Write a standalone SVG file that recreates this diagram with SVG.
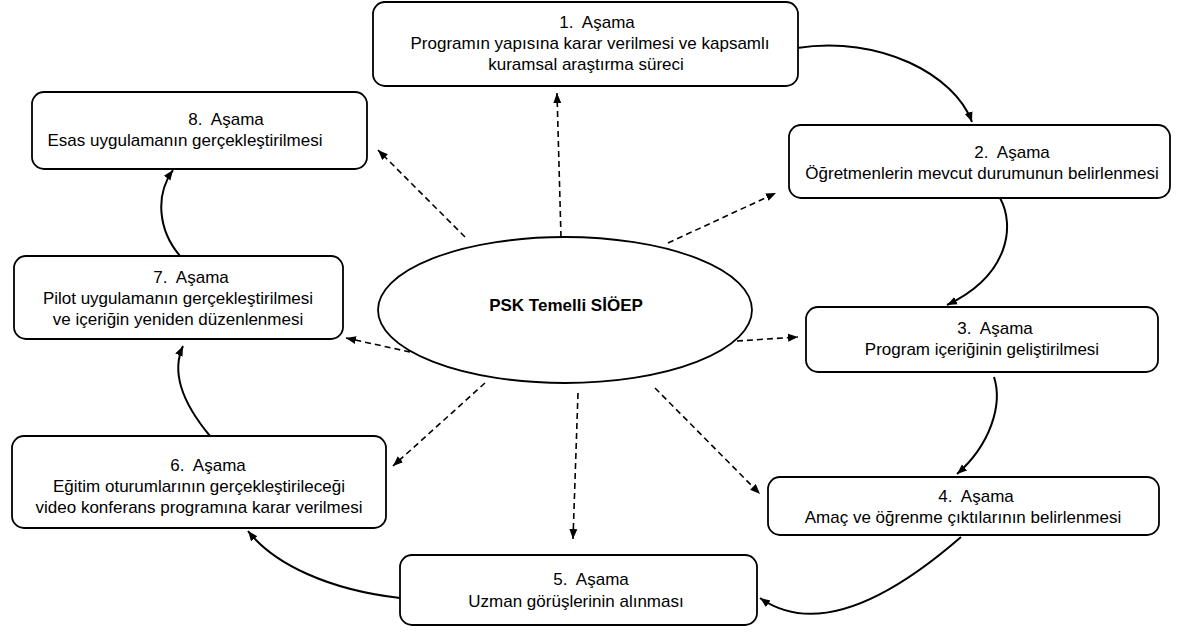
<svg xmlns="http://www.w3.org/2000/svg" width="1182" height="632" viewBox="0 0 1182 632">
<style>
.box{fill:#fff;stroke:#000;stroke-width:1.8}
.t{font-family:"Liberation Sans",Arial,sans-serif;font-size:17px;fill:#000;text-anchor:middle;white-space:pre}
.b{font-weight:bold}
.solid{fill:none;stroke:#000;stroke-width:2;marker-end:url(#ah)}
.dash{fill:none;stroke:#000;stroke-width:1.6;stroke-dasharray:6 4;marker-end:url(#ah)}
</style>
<defs>
<marker id="ah" markerUnits="userSpaceOnUse" markerWidth="12" markerHeight="10" refX="10" refY="4" orient="auto" viewBox="0 0 12 8">
<path d="M0,0 L10,4 L0,8 Z" fill="#000"/>
</marker>
</defs>
<rect width="1182" height="632" fill="#fff"/>
<g id="center">
<ellipse cx="565" cy="310" rx="187" ry="73" class="box"/>
<text x="566" y="311" class="t b">PSK Temelli SİÖEP</text>
</g>
<g id="connectors">
<path class="solid" d="M797,48 C880,35 955,75 972,122"/>
<path class="solid" d="M1000,198 C1015,225 1010,275 947,305"/>
<path class="solid" d="M994,377 C1003,405 990,445 957,474"/>
<path class="solid" d="M961,537 C900,590 820,640 760,598"/>
<path class="solid" d="M400,598 C330,590 275,565 248,531"/>
<path class="solid" d="M210,436 C180,400 172,370 183,346"/>
<path class="solid" d="M180,256 C158,230 155,195 173,170"/>
<path class="dash" d="M561,237 L557,93"/>
<path class="dash" d="M465,237 L378,150"/>
<path class="dash" d="M668,243 L776,193"/>
<path class="dash" d="M737,341 L798,337"/>
<path class="dash" d="M410,352 L346,338"/>
<path class="dash" d="M485,383 L393,466"/>
<path class="dash" d="M578,393 L573,539"/>
<path class="dash" d="M655,388 L760,494"/>
</g>
<g id="n1">
<rect x="373" y="2" width="425" height="84" rx="12" class="box"/>
<text x="597" y="28" class="t">1.  Aşama</text>
<text x="590" y="49" class="t">Programın yapısına karar verilmesi ve kapsamlı</text>
<text x="586" y="70" class="t">kuramsal araştırma süreci</text>
</g>
<g id="n2">
<rect x="789" y="125" width="381" height="73" rx="12" class="box"/>
<text x="1012" y="158" class="t">2.  Aşama</text>
<text x="982" y="179" class="t">Öğretmenlerin mevcut durumunun belirlenmesi</text>
</g>
<g id="n3">
<rect x="806" y="307" width="352" height="65" rx="12" class="box"/>
<text x="995" y="334" class="t">3.  Aşama</text>
<text x="982" y="355" class="t">Program içeriğinin geliştirilmesi</text>
</g>
<g id="n4">
<rect x="768" y="477" width="391" height="58" rx="12" class="box"/>
<text x="976" y="502" class="t">4.  Aşama</text>
<text x="963" y="523" class="t">Amaç ve öğrenme çıktılarının belirlenmesi</text>
</g>
<g id="n5">
<rect x="400" y="555" width="357" height="70" rx="12" class="box"/>
<text x="591" y="585" class="t">5.  Aşama</text>
<text x="576" y="607" class="t">Uzman görüşlerinin alınması</text>
</g>
<g id="n6">
<rect x="12" y="436" width="374" height="92" rx="12" class="box"/>
<text x="208" y="471" class="t">6.  Aşama</text>
<text x="199" y="492" class="t">Eğitim oturumlarının gerçekleştirileceği</text>
<text x="199" y="513" class="t">video konferans programına karar verilmesi</text>
</g>
<g id="n7">
<rect x="14" y="256" width="329" height="83" rx="12" class="box"/>
<text x="191" y="283" class="t">7.  Aşama</text>
<text x="178" y="304" class="t">Pilot uygulamanın gerçekleştirilmesi</text>
<text x="178" y="325" class="t">ve içeriğin yeniden düzenlenmesi</text>
</g>
<g id="n8">
<rect x="32" y="92" width="335" height="77" rx="12" class="box"/>
<text x="226" y="125" class="t">8.  Aşama</text>
<text x="185" y="146" class="t">Esas uygulamanın gerçekleştirilmesi</text>
</g>
</svg>
